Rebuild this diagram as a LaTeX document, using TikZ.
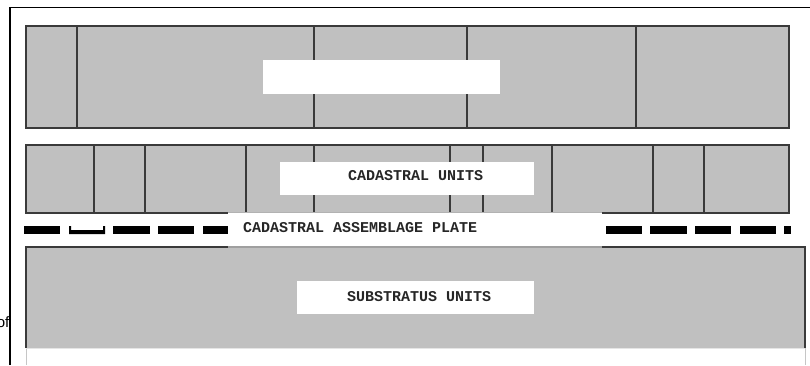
\documentclass[tikz,border=0pt]{standalone}
\usepackage{fontspec}
\setmonofont{Liberation Mono}
\setsansfont{Liberation Sans}
\definecolor{cgray}{HTML}{C0C0C0}
\definecolor{lineg}{HTML}{3A3A3A}
\begin{document}
\begin{tikzpicture}[x=1pt,y=-1pt,
  cell/.style={fill=cgray,draw=lineg,line width=1.2pt,inner sep=0pt,outer sep=0pt,anchor=north west},
  divline/.style={draw=lineg,line width=1.2pt},
  whitebox/.style={fill=white,draw=none,inner sep=0pt,outer sep=0pt,anchor=north west},
  lab/.style={font=\ttfamily\bfseries\fontsize{15}{18}\selectfont,inner sep=0pt,anchor=west,text=black!85},
  dashbar/.style={fill=black,draw=none}]
\useasboundingbox (0,0) rectangle (810,365);
% frame
\draw[line width=1.5pt,black] (10,365) -- (10,7.5) -- (810,7.5);
% top row
\node[cell,minimum width=763pt,minimum height=102pt] (toprow) at (26,26) {};
\foreach \xx in {77,314,467,636} \draw[divline] (\xx,26) -- (\xx,128);
\node[whitebox,minimum width=237pt,minimum height=34pt] (topbox) at (263,60) {};
% second row
\node[cell,minimum width=763pt,minimum height=68pt] (cadrow) at (26,145) {};
\foreach \xx in {94,145,246,314,450,483,552,653,704} \draw[divline] (\xx,145) -- (\xx,213);
\node[whitebox,minimum width=254pt,minimum height=33pt] (cadbox) at (280,162) {};
\node[lab] (cadlab) at (348,175.5) {CADASTRAL UNITS};
% dashed boundary
\foreach \a/\b in {24/60,113/150,158/194,203/228,606/642,650/687,695/731,740/776,784/791}
  \fill[dashbar] (\a,226) rectangle (\b,234);
\fill[dashbar] (69,226) -- (69,234) -- (105,234) -- (105,226) -- (103,226) -- (103,230) -- (71,230) -- (71,226) -- cycle;
% plate
\node[whitebox,minimum width=374pt,minimum height=35pt] (plate) at (228,212) {};
\draw[gray!60,line width=0.8pt] (plate.north west) -- (plate.north east);
\node[lab] (platelab) at (243,227.5) {CADASTRAL ASSEMBLAGE PLATE};
% substratus
\fill[cgray] (26,247) rectangle (805,348);
\node[inner sep=0pt,outer sep=0pt,anchor=north west,minimum width=779pt,minimum height=101pt] (sub) at (26,247) {};
\draw[lineg,line width=1.2pt] (26,348) -- (26,247) -- (805,247) -- (805,348);
\draw[gray!75,line width=1.2pt] (228,247) -- (602,247);
\draw[gray!45,line width=1pt] (26,348) -- (26,365);
\draw[gray!45,line width=1pt] (805,348) -- (805,365);
\draw[gray!20,line width=0.8pt] (26,348) -- (805,348);
\node[whitebox,minimum width=237pt,minimum height=33pt] (subbox) at (297,281) {};
\node[lab] (sublab) at (347,296.5) {SUBSTRATUS UNITS};
% stray text
\node[font=\sffamily\fontsize{15}{18}\selectfont,anchor=base east,inner sep=0pt] (of) at (9.5,327) {of};
\end{tikzpicture}
\end{document}
